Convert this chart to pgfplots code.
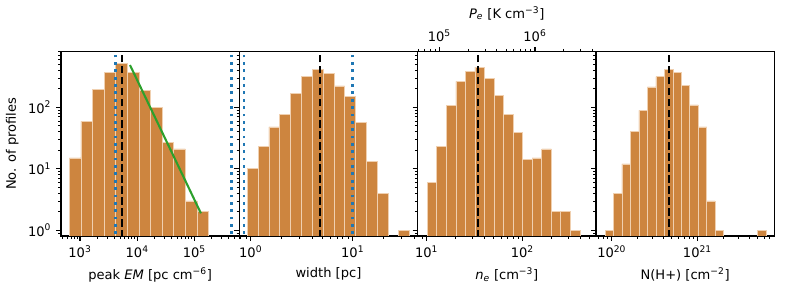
\documentclass[border=0pt]{standalone}
\usepackage{pgfplots}
\pgfplotsset{compat=1.18}
\usepackage{fontspec}
\setmainfont{DejaVu Sans}
\definecolor{peru}{RGB}{205,133,63}
\definecolor{baredge}{RGB}{240,208,176}
\definecolor{tabblue}{RGB}{31,119,180}
\definecolor{tabgreen}{RGB}{44,160,44}
\newcommand{\lblfont}{\fontsize{9.4}{11}\selectfont}
\pgfplotsset{
  hpanel/.style={
    scale only axis, width=128.38pt, height=132.7pt,
    ymin=0.808, ymax=801.7,
    axis line style={line width=0.8pt},
    tick align=outside,
    xtick pos=bottom, ytick pos=left,
    major tick length=3.5pt, minor tick length=2pt,
    every major tick/.style={line width=0.8pt, black},
    every minor tick/.style={line width=0.6pt, black},
    tick label style={font=\lblfont},
    label style={font=\lblfont},
    xticklabel={10\textsuperscript{\pgfmathprintnumber[fixed,precision=0,assume math mode=true]{\tick}}},
    yticklabel={10\textsuperscript{\pgfmathprintnumber[fixed,precision=0,assume math mode=true]{\tick}}},
  },
  hbar/.style={ybar interval, fill=peru, draw=baredge, line width=0.5pt},
  vdash/.style={black, line width=1.5pt, dash pattern=on 5.5pt off 2.4pt},
  vdot/.style={tabblue, line width=2pt, dash pattern=on 2pt off 3.3pt},
}
\begin{document}
\begin{tikzpicture}
\useasboundingbox (0,0) rectangle (568.08pt,210.96pt);
% Panel 1: peak EM
\begin{axis}[xmode=log, ymode=log, log basis x=10, log basis y=10, log origin y=infty,
  hpanel, at={(43.92pt,41.04pt)}, anchor=south west,
  xmin=465.6, xmax=609500,
  xlabel={peak \textit{EM} [pc cm\textsuperscript{−6}]},
  ylabel={No. of profiles}]
\addplot[hbar] coordinates {
(650.1,15) (1037.5,59) (1655.8,196) (2642.4,370) (4217,510) (6729.8,370)
(10740,190) (17140,98) (27353,27) (43652,21) (69663,3) (111170,2) (177420,2)};
\addplot[vdot] coordinates {(4200,0.5) (4200,1000)};
\addplot[vdot] coordinates {(440000,0.5) (440000,1000)};
\addplot[vdash] coordinates {(5420,0.5) (5420,1000)};
\addplot[tabgreen, line width=1.5pt] coordinates {(7480,486) (130000,1.89)};
\end{axis}
% Panel 2: width
\begin{axis}[xmode=log, ymode=log, log basis x=10, log basis y=10, log origin y=infty,
  hpanel, at={(172.30pt,41.04pt)}, anchor=south west,
  xmin=0.773, xmax=43.25, yticklabels={},
  xlabel={width [pc]}]
\addplot[hbar] coordinates {
(0.9268,10) (1.1830,23) (1.5101,48) (1.9275,77) (2.4604,170) (3.1405,315)
(4.0087,418) (5.1168,350) (6.5313,222) (8.3368,149) (10.641,57) (13.583,13)
(17.338,4) (22.131,4)};
\addplot[hbar] coordinates {(28.249,1) (36.058,1)};
\addplot[vdot] coordinates {(0.86,0.5) (0.86,1000)};
\addplot[vdot] coordinates {(9.9,0.5) (9.9,1000)};
\addplot[vdash] coordinates {(4.8,0.5) (4.8,1000)};
\end{axis}
% Panel 3: n_e
\begin{axis}[xmode=log, ymode=log, log basis x=10, log basis y=10, log origin y=infty,
  hpanel, at={(300.67pt,41.04pt)}, anchor=south west,
  xmin=8.04, xmax=587.5, yticklabels={},
  xlabel={\textit{n}\textsubscript{\textit{e}} [cm\textsuperscript{−3}]}]
\addplot[hbar] coordinates {
(10.139,6) (12.758,23) (16.054,108) (20.200,265) (25.410,385) (31.978,448)
(40.230,292) (50.614,157) (63.680,76) (80.120,39) (100.81,14) (126.84,15)
(159.59,21) (200.8,2) (252.6,2) (317.9,1) (399.9,1)};
\addplot[vdash] coordinates {(34.6,0.5) (34.6,1000)};
\end{axis}
\begin{axis}[xmode=log, log basis x=10,
  at={(300.67pt,41.04pt)}, anchor=south west,
  scale only axis, width=128.38pt, height=132.7pt,
  xmin=59290, xmax=4.335e6, ymin=0, ymax=1,
  axis x line*=top, axis y line=none,
  axis line style={line width=0.8pt},
  tick align=outside,
  major tick length=3.5pt, minor tick length=2pt,
  every major tick/.style={line width=0.8pt, black},
  every minor tick/.style={line width=0.6pt, black},
  tick label style={font=\lblfont},
  label style={font=\lblfont},
  xticklabel={10\textsuperscript{\pgfmathprintnumber[fixed,precision=0,assume math mode=true]{\tick}}},
  xlabel={\textit{P}\textsubscript{\textit{e}} [K cm\textsuperscript{−3}]}]
\addplot[draw=none] coordinates {(100000,0.5)};
\end{axis}
% Panel 4: N(H+)
\begin{axis}[xmode=log, ymode=log, log basis x=10, log basis y=10, log origin y=infty,
  hpanel, at={(429.12pt,41.04pt)}, anchor=south west,
  xmin=6.56e19, xmax=7.89e21, yticklabels={},
  xlabel={N(H+) [cm\textsuperscript{−2}]}]
\addplot[hbar] coordinates {
(8.356e19,1) (1.0493e20,4) (1.3176e20,12) (1.6546e20,41) (2.0777e20,89)
(2.6091e20,214) (3.2763e20,314) (4.1143e20,418) (5.1665e20,366) (6.4878e20,225)
(8.1470e20,109) (1.0231e21,48) (1.2847e21,3) (1.6133e21,1) (2.0259e21,1)};
\addplot[hbar] coordinates {(5.037e21,1) (6.325e21,1)};
\addplot[vdash] coordinates {(4.67e20,0.5) (4.67e20,1000)};
\end{axis}
\end{tikzpicture}
\end{document}
